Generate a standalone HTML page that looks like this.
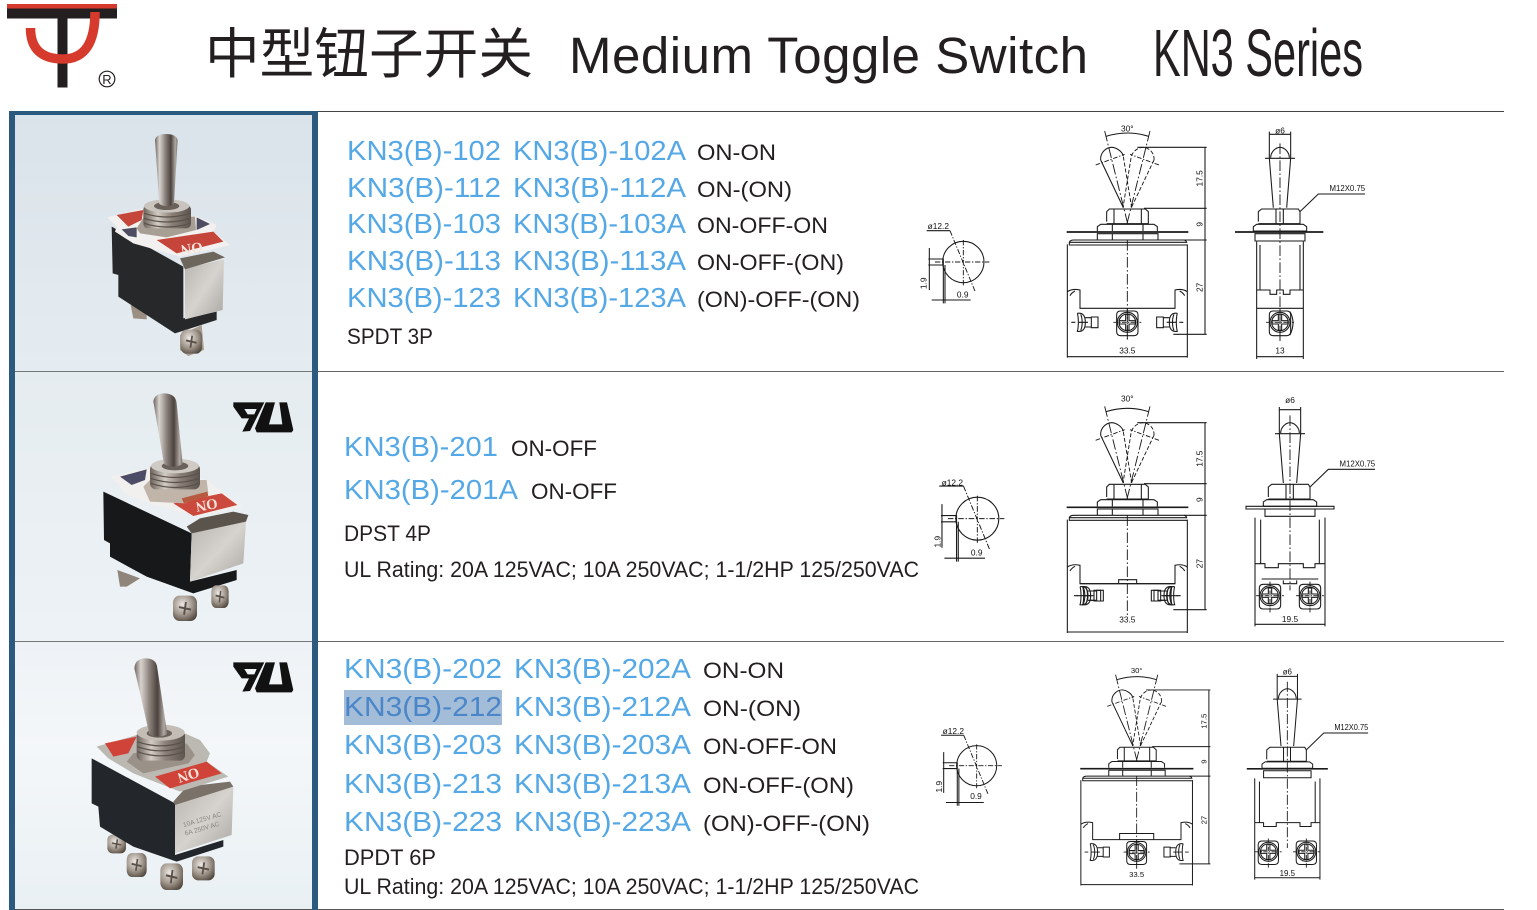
<!DOCTYPE html>
<html><head><meta charset="utf-8"><title>KN3 Series Medium Toggle Switch</title>
<style>
html,body{margin:0;padding:0;background:#fff}
svg{display:block}
.b{font-family:"Liberation Sans","Noto Sans CJK SC",sans-serif;font-size:28px;fill:#55a8e6}
.k{font-family:"Liberation Sans","Noto Sans CJK SC",sans-serif;font-size:22.5px;fill:#231f20}
.d{font-family:"Liberation Sans",sans-serif;font-size:25px;fill:#111;text-anchor:middle}
.ln{fill:none;stroke:#1a1a1a;stroke-width:3.2}
.cl{fill:none;stroke:#1a1a1a;stroke-width:2.8;stroke-dasharray:32 7 5 7}
.ds{fill:none;stroke:#1a1a1a;stroke-width:2.8;stroke-dasharray:12 6}
.rg{fill:none;stroke:#5a524a;stroke-width:3.5}
.on{font-family:"Liberation Serif",serif;font-weight:bold;font-size:44px;fill:#f3e3da;text-anchor:middle}
</style></head><body>
<svg width="1537" height="910" viewBox="0 0 1537 910" xmlns="http://www.w3.org/2000/svg">
<defs>
<linearGradient id="p1" x1="0" y1="0" x2="0" y2="1"><stop offset="0" stop-color="#dae3ea"/><stop offset="1" stop-color="#e5ecf1"/></linearGradient>
<linearGradient id="p2" x1="0" y1="0" x2="0" y2="1"><stop offset="0" stop-color="#e5ecf0"/><stop offset="1" stop-color="#edf2f6"/></linearGradient>
<linearGradient id="p3" x1="0" y1="0" x2="0" y2="1"><stop offset="0" stop-color="#eef2f6"/><stop offset=".4" stop-color="#f4f7f9"/><stop offset="1" stop-color="#e9f0f4"/></linearGradient>
<linearGradient id="lev" x1="0" y1="0" x2="1" y2="0"><stop offset="0" stop-color="#6e6460"/><stop offset=".2" stop-color="#d9d4d0"/><stop offset=".45" stop-color="#8e847e"/><stop offset=".7" stop-color="#4c423e"/><stop offset=".9" stop-color="#b0a8a2"/><stop offset="1" stop-color="#77706c"/></linearGradient>
<linearGradient id="thr" x1="0" y1="0" x2="1" y2="0"><stop offset="0" stop-color="#6b625a"/><stop offset=".3" stop-color="#d2ccc5"/><stop offset=".6" stop-color="#8a8078"/><stop offset="1" stop-color="#5c544e"/></linearGradient>
<linearGradient id="met" x1="0" y1="0" x2="1" y2="1"><stop offset="0" stop-color="#b8b5b0"/><stop offset=".5" stop-color="#d6d3cf"/><stop offset="1" stop-color="#a9a6a2"/></linearGradient>
<radialGradient id="scr" cx=".4" cy=".35" r=".75"><stop offset="0" stop-color="#ece8e3"/><stop offset=".55" stop-color="#a0968c"/><stop offset="1" stop-color="#4e443a"/></radialGradient>

<g id="sc"><rect x="-1" y="-1" width="2" height="2" rx=".55" fill="url(#scr)"/><path d="M-.5,-.1 L.5,.1 M.08,-.5 L-.08,.5" stroke="#5a5048" stroke-width=".16" fill="none"/></g>

<g id="ft">
 <path class="ln" d="M-80,-145 L-12,-2 M-80,-145 C-82,-170 -60,-183 -48,-183 C-32,-183 -15,-170 -12,-157"/>
 <path class="ds" d="M-12,-155 L13,-2 M80,-145 L12,-2 M80,-145 C82,-170 60,-183 48,-183 C32,-183 18,-172 12,-157 L-13,-2"/>
 <path class="cl" d="M-68,-232 L2,50 M68,-232 L-2,50"/>
 <path class="cl" d="M-95,-130 L-8,-162 M95,-130 L8,-162" style="stroke-dasharray:14 5 4 5"/>
 <path class="ln" d="M-64,-216 Q0,-236 64,-216"/>
 <path class="ln" d="M-62,40 V10 L-54,2 H54 L63,10 V46 H-62 M-40,2 V46 M42,2 V46"/>
 <path class="ln" d="M-90,68 V55 L-80,48 H80 L90,55 V68 M-45,48 V68 M47,48 V68"/>
 <path class="ln" d="M-90,95 V76 H92 V95 M-45,76 V95 M47,76 V95"/>
 <path d="M-182,71 H183" stroke="#1a1a1a" stroke-width="5" fill="none"/>
 <path class="ln" d="M-174,102 Q-172,95 -160,95 H168 Q176,95 178,102 H-174 V110 H180"/>
 <path class="ln" d="M-180,108 V448 M180,108 V448 M-180,445 H180"/>
 <path class="ln" d="M30,-183 H238 M50,0 H238 M170,95 H238 M138,378 H238 M233,-183 V378"/>
 <path class="cl" d="M0,95 V395"/>
</g>
<g id="sd">
 <path class="ln" d="M-12,-27 C8,-30 12,-15 12,0 C12,15 8,30 -12,27 C-8,15 -8,-15 -12,-27 M12,-14 H30 V-16 H50 V16 H30 V14 H12 M30,-14 V14 M-2,-24 C4,-12 4,12 -2,24"/>
 <path class="ln" d="M-30,0 H-18 M-8,0 H20" />
</g>
<g id="fs">
 <path class="ln" d="M-32,-22 Q-32,-34 -20,-34 H20 Q32,-34 32,-22 V28 Q32,40 20,40 H-20 Q-32,40 -32,28 Z"/>
 <circle class="ln" r="30"/><circle class="ln" r="25"/>
 <path class="ln" d="M-5,-24 H5 V-5 H24 V5 H5 V24 H-5 V5 H-24 V-5 H-5 Z"/>
 <path class="cl" d="M-42,0 H42 M0,-42 V50" style="stroke-dasharray:14 4 4 4"/>
</g>
<g id="fl">
 <path class="ln" d="M-180,250 Q-165,240 -142,245 V300 H143 V245 Q165,240 180,250"/>
 <path class="ln" d="M-172,262 Q-168,254 -157,248 M172,262 Q168,254 157,248"/>
</g>
<g id="st">
 <path class="ln" d="M-28,-152 C-28,-170 -12,-183 0,-183 C12,-183 28,-170 28,-152 M-32,-150 L-20,-2 M32,-150 L20,-2"/>
 <path class="ln" d="M-45,-150 H45" />
 <path class="ln" d="M-32,-150 V-230 M32,-150 V-230 M-32,-222 H32"/>
 <path class="ln" d="M-65,40 V10 L-55,2 H55 L60,10 V46 H-65 M-12,2 V46 M10,2 V46"/>
 <path class="ln" d="M-80,68 V55 L-70,48 H70 L80,55 V68 H-80"/>
 <path class="ln" d="M-75,76 H75 L75,98 H-75 Z"/>
 <path class="ln" d="M60,10 L115,-43 H255"/>
</g>
<g id="det">
 <circle class="ln" r="62"/>
 <path class="cl" d="M-85,0 H78 M0,-66 V70 M-40,-94 L36,90" style="stroke-dasharray:16 5 4 5"/>
 <path class="ln" d="M-110,-94 H-40 M-105,-9 H-60 V9 H-105 M-60,9 V124 M-55,9 V124 M-95,114 H22 M-102,-42 V84"/>
</g>
<g id="ul"><path fill="#111" fill-rule="evenodd" d="M700,97 H793 L750,183 L727,185 L747,145 H725 L700,110 Z M733,117 L743,133 H763 L770,117 Z"/><path fill="#111" d="M797,97 H825 L807,163 H847 L838,97 H861 L880,180 L875,187 H770 L765,175 Z"/></g>
</defs>

<rect width="1537" height="910" fill="#fff"/>

<!-- Logo -->
<rect x="7" y="4" width="110" height="4.5" fill="#d63a2c"/>
<rect x="7" y="8.5" width="110" height="10" fill="#231f20"/>
<rect x="57.5" y="14" width="10" height="73.5" fill="#231f20"/>
<path d="M30.5,28 Q30.5,59 63,59 Q95,59 95,12" fill="none" stroke="#d63a2c" stroke-width="9.5"/>
<circle cx="107" cy="79" r="7.8" fill="none" stroke="#231f20" stroke-width="1.2"/>
<text x="107" y="84" font-family="Liberation Sans,sans-serif" font-size="13" fill="#231f20" text-anchor="middle">R</text>

<!-- Title -->
<text x="205" y="73" font-family="'Liberation Sans','Noto Sans CJK SC',sans-serif" font-size="54.5" fill="#231f20" textLength="328" lengthAdjust="spacingAndGlyphs">中型钮子开关</text>
<text x="569" y="73" font-family="'Liberation Sans',sans-serif" font-size="51" fill="#231f20" textLength="519" lengthAdjust="spacing">Medium Toggle Switch</text>
<text x="1153" y="76" font-family="'Liberation Sans',sans-serif" font-size="67" fill="#231f20" textLength="210" lengthAdjust="spacingAndGlyphs">KN3 Series</text>

<!-- Left column -->
<rect x="15" y="115" width="297" height="256" fill="url(#p1)"/>
<rect x="15" y="371" width="297" height="270" fill="url(#p2)"/>
<rect x="15" y="641" width="297" height="269" fill="url(#p3)"/>
<rect x="9" y="111" width="309" height="4" fill="#2c5a7e"/>
<rect x="9" y="111" width="6" height="799" fill="#2c5a7e"/>
<rect x="312" y="111" width="6" height="799" fill="#2c5a7e"/>
<rect x="318" y="111" width="1186" height="1" fill="#444"/>
<rect x="15" y="371" width="297" height="1" fill="#777"/><rect x="318" y="371" width="1186" height="1" fill="#666"/>
<rect x="15" y="641" width="297" height="1" fill="#777"/><rect x="318" y="641" width="1186" height="1" fill="#666"/>
<rect x="15" y="909" width="297" height="1" fill="#555"/><rect x="318" y="909" width="1186" height="1" fill="#555"/>

<!-- Photo 1 -->
<g transform="scale(.33333)">
 <polygon points="392,915 440,930 440,958 400,955" fill="#9a8f80"/>
 <polygon points="335,680 550,800 550,955 650,935 650,960 525,1000 355,890 355,825 338,820" fill="#26282a"/>
 <polygon points="555,805 672,778 668,930 555,958" fill="url(#met)"/>
 <polygon points="540,775 640,755 675,772 555,808" fill="#6d665c"/>
 <polygon points="322,652 430,625 590,650 650,675 640,695 690,735 540,770 400,730 345,695 350,680" fill="#f2f1ef"/>
 <polygon points="350,645 430,630 425,660 385,680" fill="#c5453a"/>
 <polygon points="470,720 640,695 670,725 530,760" fill="#c5453a"/>
 <text class="on" transform="translate(575 745) rotate(172)" y="14">ON</text>
 <polygon points="365,688 410,682 410,712 385,708" fill="#4d4c60"/>
 <polygon points="590,652 630,672 590,690" fill="#4d4c60"/>
 <polygon points="410,685 432,650 585,650 588,690 500,712 420,700" fill="#a89f94"/>
 <rect x="430" y="615" width="143" height="70" rx="14" fill="url(#thr)"/>
 <path class="rg" d="M432,640 Q500,662 571,640 M432,655 Q500,677 571,655 M432,670 Q500,692 571,670"/>
 <ellipse cx="500" cy="618" rx="68" ry="20" fill="#c9c4be"/>
 <ellipse cx="500" cy="618" rx="38" ry="12" fill="#6a625a"/>
 <path d="M465,420 Q468,402 498,402 Q528,402 533,420 L522,612 Q500,625 478,612 Z" fill="url(#lev)"/>
 <polygon points="540,1005 605,975 612,1050 565,1068 540,1050" fill="#a79c8f"/>
 <use href="#sc" transform="translate(574 1025) scale(32 36)"/>
</g>

<!-- Photo 2 -->
<g transform="translate(0 370) scale(.33333)">
 <polygon points="352,600 420,625 380,650 360,650" fill="#8f857a"/>
 <polygon points="310,365 575,490 570,635 710,600 710,630 580,670 440,620 330,560 330,520 312,510" fill="#17181a"/>
 <polygon points="575,490 738,455 730,580 570,635" fill="url(#met)"/>
 <polygon points="560,470 600,445 700,425 745,435 738,455 575,490" fill="#5b544c"/>
 <polygon points="330,320 440,295 620,330 730,410 590,440 450,400 375,370 360,345" fill="#f1f0ee"/>
 <polygon points="360,320 440,298 435,330 395,345" fill="#4d4c66"/>
 <polygon points="520,400 665,370 712,405 580,438" fill="#cc4a3d"/>
 <text class="on" transform="translate(620 405) rotate(170)" y="14">ON</text>
 <polygon points="430,350 450,330 620,330 625,370 555,400 450,395" fill="#c0b5a8"/>
 <polygon points="545,385 622,365 625,378 552,400" fill="#b85a40"/>
 <rect x="450" y="280" width="150" height="78" rx="18" fill="url(#thr)"/>
 <path class="rg" d="M452,310 Q525,335 598,310 M452,325 Q525,350 598,325 M452,340 Q525,365 598,340"/>
 <ellipse cx="525" cy="288" rx="72" ry="22" fill="#cfcac4"/>
 <ellipse cx="525" cy="288" rx="40" ry="13" fill="#6a625a"/>
 <path d="M460,95 Q462,70 495,70 Q528,72 530,100 L548,282 Q520,298 492,282 Z" fill="url(#lev)"/>
 <use href="#sc" transform="translate(660 680) scale(26 34)"/>
 <use href="#sc" transform="translate(555 715) scale(36 38)"/>
 <use href="#ul"/>
</g>

<!-- Photo 3 -->
<g transform="translate(0 640) scale(.33333)">
 <use href="#sc" transform="translate(350 612) scale(28 28)"/>
 <polygon points="275,355 525,490 525,645 670,600 670,620 530,665 400,620 300,560 295,500 275,490" fill="#23262a"/>
 <polygon points="525,490 700,440 695,585 525,640" fill="url(#met)"/>
 <text transform="translate(608 545) rotate(-16)" font-family="Liberation Sans,sans-serif" font-size="20" fill="#8a8680" text-anchor="middle">10A 125V AC</text>
 <text transform="translate(608 572) rotate(-16)" font-family="Liberation Sans,sans-serif" font-size="20" fill="#8a8680" text-anchor="middle">6A 250V AC</text>
 <polygon points="520,485 560,440 690,425 700,440 525,495" fill="#7a7269"/>
 <polygon points="290,320 410,285 520,265 600,300 630,340 620,365 685,410 540,455 400,400 325,355" fill="#bcb9b3"/>
 <polygon points="315,310 410,290 385,340 340,350" fill="#cf4338"/>
 <polygon points="465,410 620,365 665,400 510,445" fill="#cf4338"/>
 <text class="on" transform="translate(565 405) rotate(163)" y="14">ON</text>
 <polygon points="380,365 400,340 560,310 585,345 565,370 430,400" fill="#9a9288"/>
 <rect x="410" y="272" width="145" height="90" rx="16" fill="url(#thr)"/>
 <path class="rg" d="M412,305 Q482,330 553,305 M412,320 Q482,345 553,320 M412,335 Q482,360 553,335"/>
 <ellipse cx="482" cy="278" rx="72" ry="24" fill="#c3bdb6"/>
 <ellipse cx="478" cy="280" rx="38" ry="13" fill="#6a625a"/>
 <path d="M403,85 Q405,55 437,55 Q470,55 472,85 L502,282 Q475,298 448,282 Z" fill="url(#lev)"/>
 <use href="#sc" transform="translate(410 675) scale(30 36)"/>
 <use href="#sc" transform="translate(610 685) scale(34 36)"/>
 <use href="#sc" transform="translate(515 710) scale(34 40)"/>
 <use href="#ul" transform="translate(0 -30)"/>
</g>

<!-- Text panel 1 -->
<text class="b" x="347" y="160" textLength="154" lengthAdjust="spacingAndGlyphs">KN3(B)-102</text><text class="b" x="513" y="160" textLength="173" lengthAdjust="spacingAndGlyphs">KN3(B)-102A</text><text class="k" x="697" y="160" textLength="79" lengthAdjust="spacingAndGlyphs">ON-ON</text>
<text class="b" x="347" y="197" textLength="154" lengthAdjust="spacingAndGlyphs">KN3(B)-112</text><text class="b" x="513" y="197" textLength="173" lengthAdjust="spacingAndGlyphs">KN3(B)-112A</text><text class="k" x="697" y="197" textLength="95" lengthAdjust="spacingAndGlyphs">ON-(ON)</text>
<text class="b" x="347" y="233" textLength="154" lengthAdjust="spacingAndGlyphs">KN3(B)-103</text><text class="b" x="513" y="233" textLength="173" lengthAdjust="spacingAndGlyphs">KN3(B)-103A</text><text class="k" x="697" y="233" textLength="131" lengthAdjust="spacingAndGlyphs">ON-OFF-ON</text>
<text class="b" x="347" y="270" textLength="154" lengthAdjust="spacingAndGlyphs">KN3(B)-113</text><text class="b" x="513" y="270" textLength="173" lengthAdjust="spacingAndGlyphs">KN3(B)-113A</text><text class="k" x="697" y="270" textLength="147" lengthAdjust="spacingAndGlyphs">ON-OFF-(ON)</text>
<text class="b" x="347" y="307" textLength="154" lengthAdjust="spacingAndGlyphs">KN3(B)-123</text><text class="b" x="513" y="307" textLength="173" lengthAdjust="spacingAndGlyphs">KN3(B)-123A</text><text class="k" x="697" y="307" textLength="163" lengthAdjust="spacingAndGlyphs">(ON)-OFF-(ON)</text>
<text class="k" x="347" y="344" textLength="86" lengthAdjust="spacingAndGlyphs">SPDT 3P</text>

<!-- Text panel 2 -->
<text class="b" x="344" y="456" textLength="154" lengthAdjust="spacingAndGlyphs">KN3(B)-201</text><text class="k" x="511" y="456" textLength="86" lengthAdjust="spacingAndGlyphs">ON-OFF</text>
<text class="b" x="344" y="499" textLength="174" lengthAdjust="spacingAndGlyphs">KN3(B)-201A</text><text class="k" x="531" y="499" textLength="86" lengthAdjust="spacingAndGlyphs">ON-OFF</text>
<text class="k" x="344" y="541" textLength="87" lengthAdjust="spacingAndGlyphs">DPST 4P</text>
<text class="k" x="344" y="577" textLength="575" lengthAdjust="spacingAndGlyphs">UL Rating: 20A 125VAC; 10A 250VAC; 1-1/2HP 125/250VAC</text>

<!-- Text panel 3 -->
<text class="b" x="344" y="678" textLength="158" lengthAdjust="spacingAndGlyphs">KN3(B)-202</text><text class="b" x="514" y="678" textLength="177" lengthAdjust="spacingAndGlyphs">KN3(B)-202A</text><text class="k" x="703" y="678" textLength="81" lengthAdjust="spacingAndGlyphs">ON-ON</text>
<rect x="344" y="690" width="158" height="35" fill="#a3bdd9"/>
<text class="b" x="344" y="716" textLength="158" lengthAdjust="spacingAndGlyphs" style="fill:#4a86c8">KN3(B)-212</text><text class="b" x="514" y="716" textLength="177" lengthAdjust="spacingAndGlyphs">KN3(B)-212A</text><text class="k" x="703" y="716" textLength="98" lengthAdjust="spacingAndGlyphs">ON-(ON)</text>
<text class="b" x="344" y="754" textLength="158" lengthAdjust="spacingAndGlyphs">KN3(B)-203</text><text class="b" x="514" y="754" textLength="177" lengthAdjust="spacingAndGlyphs">KN3(B)-203A</text><text class="k" x="703" y="754" textLength="134" lengthAdjust="spacingAndGlyphs">ON-OFF-ON</text>
<text class="b" x="344" y="793" textLength="158" lengthAdjust="spacingAndGlyphs">KN3(B)-213</text><text class="b" x="514" y="793" textLength="177" lengthAdjust="spacingAndGlyphs">KN3(B)-213A</text><text class="k" x="703" y="793" textLength="151" lengthAdjust="spacingAndGlyphs">ON-OFF-(ON)</text>
<text class="b" x="344" y="831" textLength="158" lengthAdjust="spacingAndGlyphs">KN3(B)-223</text><text class="b" x="514" y="831" textLength="177" lengthAdjust="spacingAndGlyphs">KN3(B)-223A</text><text class="k" x="703" y="831" textLength="167" lengthAdjust="spacingAndGlyphs">(ON)-OFF-(ON)</text>
<text class="k" x="344" y="865" textLength="92" lengthAdjust="spacingAndGlyphs">DPDT 6P</text>
<text class="k" x="344" y="894" textLength="575" lengthAdjust="spacingAndGlyphs">UL Rating: 20A 125VAC; 10A 250VAC; 1-1/2HP 125/250VAC</text>

<!-- Drawings panel 1 -->
<g transform="translate(910 115) scale(.33333)">
 <use href="#det" transform="translate(160 441)"/>
 <text class="d" x="85" y="342">ø12.2</text><text class="d" x="158" y="548">0.9</text><text class="d" transform="translate(50 505) rotate(-90)">1.9</text>
 <g transform="translate(652 280)">
  <use href="#ft"/><use href="#fl"/>
  <use href="#fs" transform="translate(0 342)"/>
  <use href="#sd" transform="translate(-138 342)"/>
  <use href="#sd" transform="translate(138 342) scale(-1 1)"/>
  <text class="d" x="0" y="-231">30°</text><text class="d" x="0" y="436">33.5</text>
  <text class="d" transform="translate(226 -90) rotate(-90)">17.5</text><text class="d" transform="translate(226 48) rotate(-90)">9</text><text class="d" transform="translate(226 237) rotate(-90)">27</text>
 </g>
 <g transform="translate(1110 280)">
  <use href="#st"/>
  <path d="M-135,71 H130" stroke="#1a1a1a" stroke-width="5"/>
  <path class="ln" d="M-70,100 V452 M70,100 V452 M-60,110 V245 M60,110 V245 M-70,245 H-30 V258 H-10 V245 H10 V258 H30 V245 H70 M-70,300 H70 M-70,445 H70"/>
  <path class="cl" d="M0,-195 V400"/>
  <use href="#fs" transform="translate(0 342)"/>
  <path class="ln" d="M30,310 Q48,342 30,380"/>
  <text class="d" x="0" y="-225">ø6</text><text class="d" x="0" y="436">13</text>
  <text class="d" x="202" y="-52" textLength="107" lengthAdjust="spacingAndGlyphs">M12X0.75</text>
 </g>
</g>

<!-- Drawings panel 2 -->
<g transform="translate(920 385) scale(.33333)">
 <use href="#det" transform="translate(172 401) scale(1.04)"/>
 <text class="d" x="97" y="301">ø12.2</text><text class="d" x="170" y="511">0.9</text><text class="d" transform="translate(62 470) rotate(-90)">1.9</text>
 <g transform="translate(622 296)">
  <use href="#ft"/><use href="#fl"/>
  <path class="ln" d="M-142,300 H143 M-26,300 V288 H28 V300"/>
  <use href="#sd" transform="translate(-122 336)"/><use href="#sd" transform="translate(-130 336)"/>
  <use href="#sd" transform="translate(122 336) scale(-1 1)"/><use href="#sd" transform="translate(130 336) scale(-1 1)"/>
  <text class="d" x="0" y="-247">30°</text><text class="d" x="0" y="417">33.5</text>
  <text class="d" transform="translate(226 -75) rotate(-90)">17.5</text><text class="d" transform="translate(226 48) rotate(-90)">9</text><text class="d" transform="translate(226 240) rotate(-90)">27</text>
 </g>
 <g transform="translate(1110 296)">
  <use href="#st"/>
  <path class="ln" d="M-132,68 H132 V76 H-132 Z"/>
  <path class="ln" d="M-105,102 V428 M105,102 V428 M-88,108 V240 M88,108 V240 M-105,240 H-75 V252 H-35 V240 H40 V252 H75 V240 H105 M-105,422 H105"/>
  <path class="ln" d="M-20,290 V300 H20 V290 M-85,286 H85"/>
  <path class="cl" d="M0,-205 V320"/>
  <use href="#fs" transform="translate(-60 336)"/><use href="#fs" transform="translate(60 336)"/>
  <text class="d" x="0" y="-242">ø6</text><text class="d" x="0" y="415">19.5</text>
  <text class="d" x="202" y="-52" textLength="107" lengthAdjust="spacingAndGlyphs">M12X0.75</text>
 </g>
</g>

<!-- Drawings panel 3 -->
<g transform="translate(920 655) scale(.33333)">
 <use href="#det" transform="translate(170 332) scale(.97)"/>
 <text class="d" x="100" y="237">ø12.2</text><text class="d" x="168" y="432">0.9</text><text class="d" transform="translate(66 395) rotate(-90)">1.9</text>
 <g transform="translate(650 275) scale(.93)">
  <use href="#ft"/><use href="#fl"/>
  <path class="ln" d="M-55,300 V280 H55 V300"/>
  <use href="#fs" transform="translate(0 340)"/>
  <use href="#sd" transform="translate(-138 340)"/>
  <use href="#sd" transform="translate(138 340) scale(-1 1)"/>
  <text class="d" x="0" y="-238">30°</text><text class="d" x="0" y="420">33.5</text>
  <text class="d" transform="translate(226 -82) rotate(-90)">17.5</text><text class="d" transform="translate(226 48) rotate(-90)">9</text><text class="d" transform="translate(226 237) rotate(-90)">27</text>
 </g>
 <g transform="translate(1102 275) scale(.95)">
  <use href="#st"/>
  <path d="M-128,70 H128" stroke="#1a1a1a" stroke-width="5"/>
  <path class="ln" d="M-103,100 V420 M103,100 V420 M-88,110 V240 M88,110 V240 M-103,240 H-75 V252 H-35 V240 H40 V252 H75 V240 H103 M-103,414 H103"/>
  <path class="cl" d="M0,-205 V320"/>
  <use href="#fs" transform="translate(-60 332)"/><use href="#fs" transform="translate(60 332)"/>
  <text class="d" x="0" y="-228">ø6</text><text class="d" x="0" y="408">19.5</text>
  <text class="d" x="202" y="-52" textLength="107" lengthAdjust="spacingAndGlyphs">M12X0.75</text>
 </g>
</g>
</svg>
</body></html>
